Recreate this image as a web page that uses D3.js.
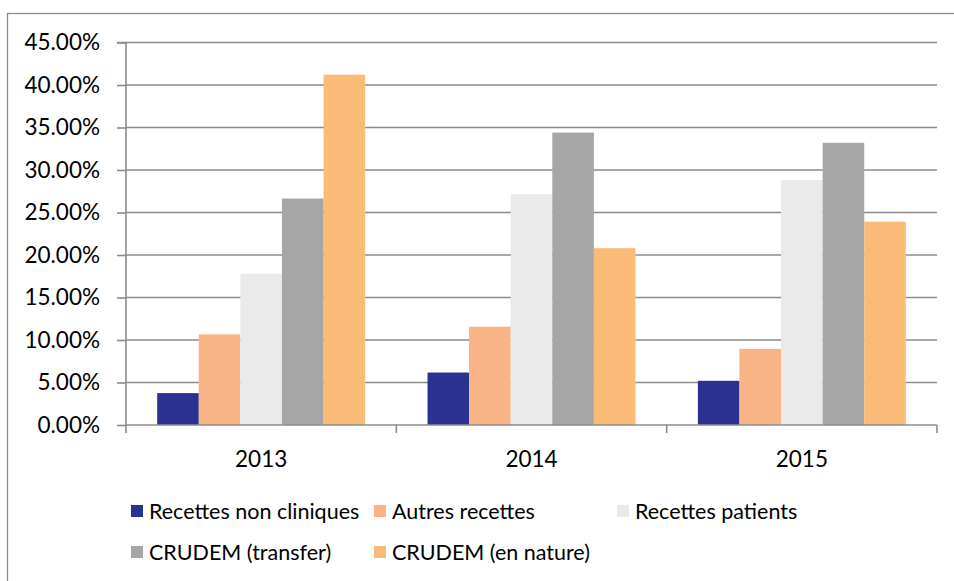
<!DOCTYPE html>
<html>
<head>
<meta charset="utf-8">
<script src="https://cdn.jsdelivr.net/npm/d3@7"></script>
<style>
  html, body { margin: 0; padding: 0; background: #fff; }
  svg { display: block; }
  text { font-family: Lato, "Open Sans", sans-serif; fill: #000; }
</style>
</head>
<body>
<svg id="chart" width="954" height="581"></svg>
<script>
const years = ["2013", "2014", "2015"];
const seriesNames = ["Recettes non cliniques", "Autres recettes", "Recettes patients", "CRUDEM (transfer)", "CRUDEM (en nature)"];
const seriesColors = ["#2B3190", "#F8B387", "#EAEAEA", "#A6A6A6", "#F9BB77"];
const recettesNonCliniques = [0.0375, 0.0617, 0.0520];
const autresRecettes = [0.1066, 0.1156, 0.0895];
const recettesPatients = [0.1780, 0.2715, 0.2880];
const crudemTransfer = [0.2664, 0.3440, 0.3320];
const crudemNature = [0.4121, 0.2080, 0.2392];
const yTicks = [0, 0.05, 0.10, 0.15, 0.20, 0.25, 0.30, 0.35, 0.40, 0.45];

const seriesValues = [recettesNonCliniques, autresRecettes, recettesPatients, crudemTransfer, crudemNature];

const svg = d3.select("#chart");
const plotLeft = 126, plotRight = 937, plotTop = 42.5, plotBottom = 425;

// outer border
svg.append("rect").attr("x", 7.5).attr("y", 13.5).attr("width", 960).attr("height", 600)
  .attr("fill", "none").attr("stroke", "#8a8a8a").attr("stroke-width", 1.3);

const y = d3.scaleLinear().domain([0, 0.45]).range([plotBottom, plotTop]);
const x0 = d3.scaleBand().domain(years).range([plotLeft, plotRight]).padding(0);
const x1 = d3.scaleBand().domain(seriesNames).range([0, x0.bandwidth()]).paddingInner(0).paddingOuter(0.75);

// gridlines
svg.append("g").selectAll("line").data(yTicks.filter(d => d > 0)).join("line")
  .attr("x1", plotLeft).attr("x2", plotRight)
  .attr("y1", d => y(d)).attr("y2", d => y(d))
  .attr("stroke", "#8c8c8c").attr("stroke-width", 1.6);

// bars
const groups = svg.append("g").selectAll("g").data(years).join("g")
  .attr("transform", d => `translate(${x0(d)},0)`);
groups.selectAll("rect")
  .data((yr, yi) => seriesNames.map((s, si) => ({ s, si, v: seriesValues[si][yi] })))
  .join("rect")
  .attr("x", d => x1(d.s))
  .attr("width", x1.bandwidth())
  .attr("y", d => y(d.v))
  .attr("height", d => y(0) - y(d.v))
  .attr("fill", d => seriesColors[d.si]);

// y axis
const yAxis = d3.axisLeft(y).tickValues(yTicks).tickSize(9).tickPadding(17)
  .tickFormat(d => (d * 100).toFixed(2) + "%");
const yg = svg.append("g").attr("transform", `translate(${plotLeft},0)`).call(yAxis);
yg.select(".domain").attr("stroke", "#8c8c8c").attr("stroke-width", 1.6).attr("d", `M-9,${plotTop}H0V${plotBottom}`);
yg.selectAll(".tick line").attr("stroke", "#8c8c8c").attr("stroke-width", 1.6);
yg.selectAll(".tick text").attr("font-size", 22.5).attr("font-family", "Lato, sans-serif").attr("fill", "#000");

// x axis
const xAxis = d3.axisBottom(x0).tickSize(0).tickPadding(26);
const xg = svg.append("g").attr("transform", `translate(0,${plotBottom})`).call(xAxis);
xg.select(".domain").attr("stroke", "#8c8c8c").attr("stroke-width", 1.6).attr("d", `M${plotLeft},0H${plotRight}`);
xg.selectAll(".tick text").attr("font-size", 22.5).attr("font-family", "Lato, sans-serif").attr("fill", "#000");
// category boundary ticks
const bounds = years.map(d => x0(d)).concat([plotRight]);
xg.selectAll(".bound").data(bounds).join("line").attr("class", "bound")
  .attr("x1", d => d).attr("x2", d => d).attr("y1", 0).attr("y2", 8)
  .attr("stroke", "#8c8c8c").attr("stroke-width", 1.6);

// legend
const legendPos = [[131, 511], [374, 511], [617, 511], [131, 552], [374, 552]];
const lg = svg.append("g").selectAll("g").data(seriesNames).join("g")
  .attr("transform", (d, i) => `translate(${legendPos[i][0]},${legendPos[i][1]})`);
lg.append("rect").attr("x", 0).attr("y", -6).attr("width", 12).attr("height", 12)
  .attr("fill", (d, i) => seriesColors[i]);
lg.append("text").attr("x", 18).attr("y", 0).attr("dy", "0.35em")
  .attr("font-size", 21.5).text(d => d);
</script>
</body>
</html>
